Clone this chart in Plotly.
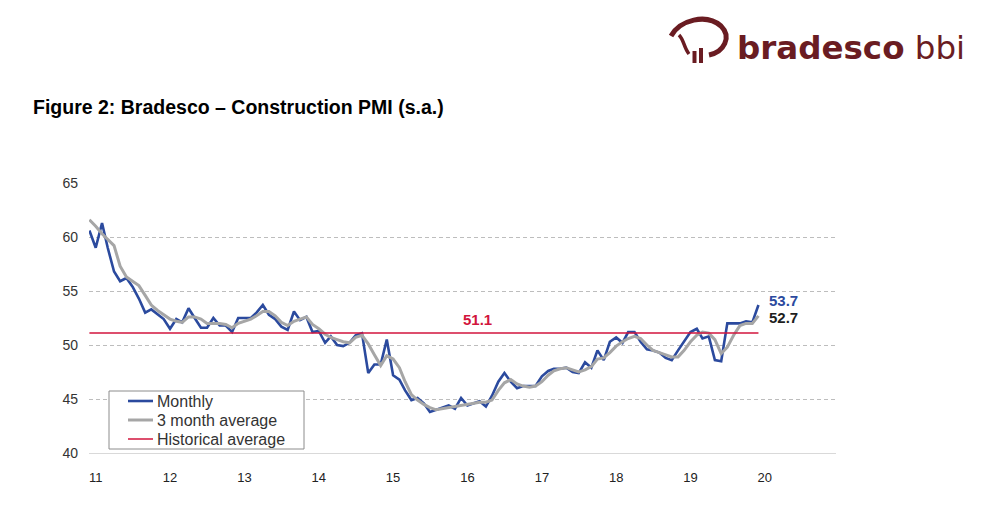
import pandas as pd
import plotly.graph_objects as go

# ---------------- data ----------------
months = pd.date_range("2010-12-01", periods=109, freq="MS")

monthly = [
    60.6, 59.0, 61.3, 59.0, 56.8, 55.9, 56.2, 55.4, 54.3, 53.0,
    53.3, 52.8, 52.4, 51.5, 52.4, 52.1, 53.4, 52.5, 51.6, 51.6,
    52.5, 51.8, 51.8, 51.2, 52.5, 52.5, 52.5, 53.0, 53.7, 52.8,
    52.4, 51.7, 51.4, 53.1, 52.3, 52.6, 51.2, 51.3, 50.2, 50.8,
    50.0, 49.9, 50.2, 50.9, 51.1, 47.4, 48.2, 48.2, 50.5, 47.2,
    46.8, 45.8, 44.9, 45.1, 44.6, 43.8, 44.0, 44.2, 44.4, 44.1,
    45.1, 44.4, 44.6, 44.8, 44.3, 45.3, 46.6, 47.4, 46.6, 46.0,
    46.2, 46.2, 46.2, 47.1, 47.6, 47.8, 47.8, 47.9, 47.5, 47.4,
    48.4, 47.9, 49.5, 48.6, 50.3, 50.7, 50.2, 51.2, 51.2, 50.3,
    49.6, 49.5, 49.3, 48.8, 48.6, 49.5, 50.4, 51.2, 51.5, 50.6,
    50.8, 48.6, 48.5, 52.0, 52.0, 52.0, 52.2, 52.1, 53.7,
]

three_month_avg = [
    61.6, 61.0, 60.3, 59.8, 59.2, 57.3, 56.3, 55.9, 55.5, 54.6,
    53.7, 53.2, 52.8, 52.4, 52.2, 52.1, 52.6, 52.6, 52.4, 52.0,
    52.0, 52.0, 51.9, 51.6, 52.0, 52.2, 52.4, 52.7, 53.1, 53.1,
    52.7, 52.1, 51.8, 52.2, 52.4, 52.6, 51.9, 51.5, 51.0, 50.7,
    50.5, 50.3, 50.2, 50.7, 50.9, 50.1, 49.1, 48.1, 49.0, 48.7,
    47.9, 46.6, 45.4, 44.9, 44.5, 44.2, 44.0, 44.1, 44.2, 44.3,
    44.4, 44.5, 44.6, 44.7, 44.7, 44.9, 45.8, 46.5, 46.8, 46.4,
    46.2, 46.1, 46.2, 46.6, 47.2, 47.6, 47.8, 47.9, 47.7, 47.5,
    47.7, 48.0, 48.7, 48.8, 49.3, 49.9, 50.3, 50.6, 50.8, 50.6,
    50.0, 49.5, 49.3, 49.1, 48.9, 48.9, 49.5, 50.3, 50.9, 51.2,
    51.1, 50.5, 49.2, 49.8, 50.9, 51.8, 52.0, 52.0, 52.7,
]

historical_average = 51.1

tick_dates = ["2011-01-01", "2012-01-01", "2013-01-01", "2014-01-01", "2015-01-01",
              "2016-01-01", "2017-01-01", "2018-01-01", "2019-01-01", "2020-01-01"]
tick_labels = ["11", "12", "13", "14", "15", "16", "17", "18", "19", "20"]
y_ticks = [40, 45, 50, 55, 60, 65]
series_names = ["Monthly", "3 month average", "Historical average"]

# ---------------- styling ----------------
BLUE = "#2b4a9e"
GRAY = "#a6a6a6"
RED = "#d2153d"
LOGO = "#6a1c22"
FONT = "Liberation Sans, Arial, sans-serif"

# page has an 8px body margin -> figure is 978x505 placed at (8, 8)
OFF = 8
W, H = 986 - OFF, 513 - OFF
PL, PT, PR, PB = 89, 183, 836, 453          # plot area in page pixels
ML, MT = PL - OFF, PT - OFF
MR, MB = (W + OFF) - PR, (H + OFF) - PB
PW, PH = PR - PL, PB - PT


def px(x, y):
    """page pixel -> paper coords (decoration only)"""
    return (x - PL) / PW, (PB - y) / PH


colors = [BLUE, GRAY, RED]
widths = [2.6, 3, 1.5]

fig = go.Figure()
fig.add_trace(go.Scatter(x=months, y=monthly, mode="lines", name=series_names[0],
                         line=dict(color=BLUE, width=2.6), showlegend=False))
fig.add_trace(go.Scatter(x=months, y=three_month_avg, mode="lines", name=series_names[1],
                         line=dict(color=GRAY, width=3), showlegend=False))
fig.add_trace(go.Scatter(x=[months[0], months[-1]], y=[historical_average, historical_average],
                         mode="lines", name=series_names[2],
                         line=dict(color=RED, width=1.5), showlegend=False))

annotations = [
    dict(x=pd.Timestamp("2016-02-20"), y=historical_average, xref="x", yref="y",
         text=f"<b>{historical_average}</b>", showarrow=False, yanchor="bottom", yshift=3,
         font=dict(family=FONT, size=15, color=RED)),
    dict(x=months[-1], y=monthly[-1], xref="x", yref="y", text=f"<b>{monthly[-1]}</b>",
         showarrow=False, xanchor="left", xshift=9, yshift=5,
         font=dict(family=FONT, size=15, color=BLUE)),
    dict(x=months[-1], y=three_month_avg[-1], xref="x", yref="y", text=f"<b>{three_month_avg[-1]}</b>",
         showarrow=False, xanchor="left", xshift=9, yshift=-2,
         font=dict(family=FONT, size=15, color="#1e1e1e")),
    dict(x=px(31, 107)[0], y=px(31, 107)[1], xref="paper", yref="paper",
         text="<b>Figure 2: Bradesco – Construction PMI (s.a.)</b>", showarrow=False,
         xanchor="left", yanchor="middle", font=dict(family=FONT, size=19.5, color="#000000")),
    dict(x=px(967, 48)[0], y=px(967, 48)[1], xref="paper", yref="paper",
         text="<b>bradesco</b> bbi", showarrow=False, xanchor="right", yanchor="middle",
         font=dict(family="DejaVu Sans, sans-serif", size=32.5, color=LOGO)),
]


def path(points, cmds):
    s = ""
    for c, pts in zip(cmds, points):
        s += c + " " + " ".join(f"{px(a, b)[0]:.5f},{px(a, b)[1]:.5f}" for a, b in pts) + " "
    return s.strip()


shapes = [
    dict(type="path", xref="paper", yref="paper",
         path=path([[(671, 36)], [(680, 20), (706, 13), (721, 26)], [(732, 37), (724, 52), (709, 55)]],
                   ["M", "C", "C"]),
         line=dict(color=LOGO, width=5)),
    dict(type="path", xref="paper", yref="paper",
         path=path([[(679, 35)], [(684, 40), (684, 48), (689, 54)]], ["M", "C"]),
         line=dict(color=LOGO, width=3.5)),
]
for (x0, y0, x1, y1) in [(692.5, 51, 696.5, 63), (699, 48, 703, 63)]:
    a0, b0 = px(x0, y1)
    a1, b1 = px(x1, y0)
    shapes.append(dict(type="rect", xref="paper", yref="paper", x0=a0, y0=b0, x1=a1, y1=b1,
                       fillcolor=LOGO, line=dict(width=0)))

# custom legend box (matches the reference's compact Excel legend)
bx0, by0 = px(109, 449)
bx1, by1 = px(304, 391)
shapes.append(dict(type="rect", xref="paper", yref="paper", x0=bx0, y0=by0, x1=bx1, y1=by1,
                   fillcolor="white", line=dict(color="#8c8c8c", width=1)))
for k, row_y in enumerate([401, 420, 439]):
    a0, b = px(128, row_y)
    a1, _ = px(153, row_y)
    shapes.append(dict(type="line", xref="paper", yref="paper", x0=a0, y0=b, x1=a1, y1=b,
                       line=dict(color=colors[k], width=widths[k])))
    tx, ty = px(155, row_y)
    annotations.append(dict(x=tx, y=ty, xref="paper", yref="paper", text=series_names[k],
                            showarrow=False, xanchor="left", yanchor="middle",
                            font=dict(family=FONT, size=16, color="#333333")))

fig.update_layout(
    width=W, height=H,
    margin=dict(l=ML, r=MR, t=MT, b=MB, pad=0),
    paper_bgcolor="white", plot_bgcolor="white",
    font=dict(family=FONT, color="#333333"),
    showlegend=False,
    xaxis=dict(range=[pd.Timestamp("2010-11-29"), pd.Timestamp("2020-12-16")],
               tickmode="array", tickvals=tick_dates, ticktext=tick_labels,
               showgrid=False, zeroline=False, showline=True, linecolor="#d9d9d9", linewidth=1,
               ticks="", ticklabelstandoff=12,
               tickfont=dict(family=FONT, size=13, color="#222222")),
    yaxis=dict(range=[40, 65], tickmode="array", tickvals=y_ticks,
               showgrid=True, gridcolor="#bdbdbd", griddash="4px,3px", gridwidth=1,
               zeroline=False, showline=False, ticks="", ticklabelstandoff=10,
               tickfont=dict(family=FONT, size=14, color="#333333")),
    annotations=annotations,
    shapes=shapes,
)

fig.write_html("out.html")
